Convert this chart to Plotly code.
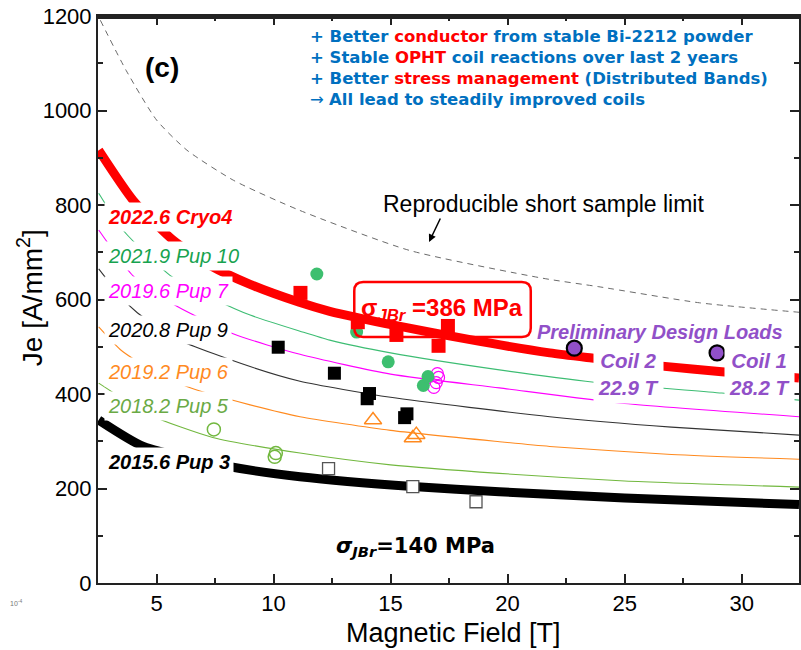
import plotly.graph_objects as go

# ---------------- data ----------------
limit_x = [2.6, 3.7, 5.0, 6.3, 8.3, 11.1, 15.8, 21.5, 23.9, 28.2, 32.45]
limit_y = [1191, 1085, 980, 916, 852, 789, 704, 645, 627, 593, 573]

cryo4_x = [2.53, 4.0, 5.7, 7.3, 9.0, 11.1, 12.4, 15.3, 18.4, 21.8, 23.6, 26.6, 29.15, 32.45]
cryo4_y = [916, 810, 726, 672, 632, 594, 575, 544, 515, 487, 476, 459, 447, 434]

pup10_x = [2.53, 3.6, 5.66, 7.58, 9.0, 11.13, 12.4, 15.0, 19.65, 23.7, 29.15, 32.45]
pup10_y = [825, 745, 648, 598, 567, 533, 514, 487, 451, 425, 402, 387]

pup7_x = [2.53, 4.0, 5.6, 8.3, 11.13, 15.0, 19.65, 25.0, 32.45]
pup7_y = [747, 650, 593, 527, 484, 442, 413, 380, 352]

pup9_x = [2.53, 3.6, 4.18, 5.89, 9.0, 11.13, 15.0, 21.8, 27.0, 32.45]
pup9_y = [665, 599, 572, 516, 458, 427, 393, 352, 330, 313]

pup6_x = [2.53, 3.5, 4.74, 6.5, 9.0, 11.13, 15.0, 19.65, 21.8, 27.0, 32.45]
pup6_y = [542, 492, 452, 412, 377, 352, 323, 299, 289, 272, 262]

pup5_x = [2.53, 4.74, 7.4, 11.13, 15.0, 19.65, 25.0, 32.45]
pup5_y = [423, 355, 308, 275, 250, 232, 216, 203]

pup3_x = [2.53, 4.44, 8.15, 11.13, 15.95, 19.65, 25.0, 32.45]
pup3_y = [345, 289, 246, 225, 204, 193, 180, 166]

cryo4_pts_x = [11.15, 13.6, 15.25, 17.05, 17.45]
cryo4_pts_y = [614, 552, 525, 502, 544]
pup10_pts_x = [11.85, 13.55, 14.9, 16.4, 16.6]
pup10_pts_y = [654, 531, 468, 418, 437]
pup7_pts_x = [17.0, 17.05, 16.95, 16.85]
pup7_pts_y = [443, 435, 424, 414]
pup9_pts_x = [10.2, 12.6, 14.0, 14.1, 15.6, 15.7]
pup9_pts_y = [499, 444, 390, 401, 350, 358]
pup6_pts_x = [14.25, 15.95, 16.1]
pup6_pts_y = [345, 307, 314]
pup5_pts_x = [7.45, 10.05, 10.1]
pup5_pts_y = [325, 267, 275]
pup3_pts_x = [12.35, 15.95, 18.65]
pup3_pts_y = [242, 204, 172]
design_x = [22.85, 28.95]
design_y = [497, 487]

x_ticks = [5, 10, 15, 20, 25, 30]
y_ticks = [0, 200, 400, 600, 800, 1000, 1200]

# ---------------- styling ----------------
FONT = "Liberation Sans, Arial, sans-serif"
WIDE = "DejaVu Sans, Verdana, sans-serif"
RED = "#ff0000"
GREEN_LINE = "#3dbd73"
GREEN_TXT = "#17a34f"
MAGENTA = "#ff00ff"
ORANGE = "#ff8a1f"
LGREEN = "#72b83f"
PURPLE = "#9150c8"
BLUE = "#0070c0"
AX = "#222222"

W, H = 801, 650
XMIN, XMAX = 2.5, 32.45
YMIN, YMAX = 0, 1200
PL, PT, PB, PR = 98, 16, 583, 801          # plot area in page pixels
PW, PH = PR - PL, PB - PT

def pxx(px):
    return (px - PL) / PW
def pxy(py):
    return (PB - py) / PH

fig = go.Figure()

def curve(x, y, color, width, dash=None):
    fig.add_trace(go.Scatter(x=x, y=y, mode="lines",
                             line=dict(color=color, width=width, dash=dash, shape="spline", smoothing=0.6),
                             hoverinfo="skip"))

curve(limit_x, limit_y, "#6a6a6a", 1, "6px,5px")
curve(pup3_x, pup3_y, "black", 9)
curve(pup5_x, pup5_y, LGREEN, 1.1)
curve(pup6_x, pup6_y, ORANGE, 1.1)
curve(pup9_x, pup9_y, "#333333", 1.1)
curve(pup7_x, pup7_y, MAGENTA, 1.1)
curve(pup10_x, pup10_y, GREEN_LINE, 1.1)
curve(cryo4_x, cryo4_y, RED, 9)

def pts(x, y, symbol, size, fill, line_color, lw):
    fig.add_trace(go.Scatter(x=x, y=y, mode="markers",
                             marker=dict(symbol=symbol, size=size, color=fill, line=dict(color=line_color, width=lw)),
                             hoverinfo="skip"))

pts(pup3_pts_x, pup3_pts_y, "square", 12, "white", "#555555", 1.3)
pts(pup5_pts_x, pup5_pts_y, "circle-open", 13, LGREEN, LGREEN, 1.5)
pts(pup6_pts_x, pup6_pts_y, "triangle-up-open", 15, ORANGE, ORANGE, 1.5)
pts(pup9_pts_x, pup9_pts_y, "square", 13, "black", "black", 0)
pts(pup7_pts_x, pup7_pts_y, "circle-open", 12, MAGENTA, MAGENTA, 1.2)
pts(pup10_pts_x, pup10_pts_y, "circle", 13, "#3dbf6f", "#3dbf6f", 0)
pts(cryo4_pts_x, cryo4_pts_y, "square", 14, RED, RED, 0)
pts(design_x, design_y, "circle", 15, PURPLE, "black", 2.2)

annotations = []
def ann(text, px, py, size, color="black", xanchor="center", yanchor="middle", bg=None, angle=0, pad=1, family=FONT):
    d = dict(text=text, x=pxx(px), y=pxy(py), xref="paper", yref="paper", showarrow=False,
             font=dict(family=family, size=size, color=color), xanchor=xanchor, yanchor=yanchor,
             textangle=angle, borderpad=pad)
    if bg:
        d["bgcolor"] = bg
    annotations.append(d)

# series labels
ann("<b><i>2022.6 Cryo4</i></b>", 104, 217, 20, RED, "left", bg="white", pad=3)
ann("<i>2021.9 Pup 10</i>", 104, 256, 20, GREEN_TXT, "left", bg="white", pad=3)
ann("<i>2019.6 Pup 7</i>", 104, 291, 20, MAGENTA, "left", bg="white", pad=3)
ann("<i>2020.8 Pup 9</i>", 104, 330, 20, "black", "left", bg="white", pad=3)
ann("<i>2019.2 Pup 6</i>", 104, 372, 20, ORANGE, "left", bg="white", pad=3)
ann("<i>2018.2 Pup 5</i>", 104, 406, 20, "#6aaa45", "left", bg="white", pad=3)
ann("<b><i>2015.6 Pup 3</i></b>", 104, 462, 20, "black", "left", bg="white", pad=3)

# panel tag
ann("<b>(c)</b>", 162, 67, 28)

# top notes
R = "<span style='color:#ff0000'>"
ann("<b>+ Better " + R + "conductor</span> from stable Bi-2212 powder</b>", 309, 36, 16.5, BLUE, "left", family=WIDE)
ann("<b>+ Stable " + R + "OPHT</span> coil reactions over last 2 years</b>", 309, 57, 16.5, BLUE, "left", family=WIDE)
ann("<b>+ Better " + R + "stress management</span> (Distributed Bands)</b>", 309, 78, 16.5, BLUE, "left", family=WIDE)
ann("→ <b>All lead to steadily improved coils</b>", 309, 99, 16.5, BLUE, "left", family=WIDE)

# short sample limit
ann("Reproducible short sample limit", 545, 204, 23, "black")
annotations.append(dict(x=pxx(430), y=pxy(242), ax=12, ay=-25, xref="paper", yref="paper", text="",
                        showarrow=True, arrowhead=2, arrowsize=1, arrowwidth=1.5, arrowcolor="black"))

# stress labels
ann("<b>σ<sub><i>JBr</i></sub> =386 MPa</b>", 443, 309, 24, RED)
ann("<b><i>σ<sub>JBr</sub></i>=140 MPa</b>", 416, 547, 21, "black", family=WIDE)

# design loads
ann("<b><i>Preliminary Design Loads</i></b>", 662, 332, 20, PURPLE)
ann("<b><i>Coil 2<br>22.9 T</i></b>", 630, 374, 20.5, PURPLE, bg="white", pad=4)
ann("<b><i>Coil 1<br>28.2 T</i></b>", 761, 374, 20.5, PURPLE, bg="white", pad=4)

# axis titles
ann("Magnetic Field [T]", 455, 633, 27)
ann("Je [A/mm<sup>2</sup>]", 30, 298, 28, angle=-90)
ann("10<sup>-4</sup>", 16, 603, 7, "#777777")

# rounded box around 386 MPa (placed in axis units converted from pixels)
def dx(px):
    return XMIN + (px - PL) / PW * (XMAX - XMIN)
def dy(py):
    return YMIN + (PB - py) / PH * (YMAX - YMIN)
bx1, bx2 = dx(355), dx(532)
by1, by2 = dy(282), dy(337)
rx = dx(PL + 9) - dx(PL)
ry = dy(PB - 9) - dy(PB)
path = (f"M {bx1+rx},{by1} L {bx2-rx},{by1} Q {bx2},{by1} {bx2},{by1-ry} "
        f"L {bx2},{by2+ry} Q {bx2},{by2} {bx2-rx},{by2} L {bx1+rx},{by2} "
        f"Q {bx1},{by2} {bx1},{by2+ry} L {bx1},{by1-ry} Q {bx1},{by1} {bx1+rx},{by1} Z")
shapes = [
    dict(type="path", path=path, xref="x", yref="y", line=dict(color=RED, width=2.5),
         fillcolor="rgba(0,0,0,0)"),
    # top frame edge as a thin filled band just inside the plot top
    dict(type="rect", xref="paper", yref="paper", x0=0, x1=1, y0=1 - 3.0 / PH, y1=1,
         line=dict(width=0), fillcolor=AX, layer="above"),
]

axis_common = dict(showline=True, linewidth=2, linecolor=AX, ticks="inside", mirror="allticks",
                   ticklen=9, tickwidth=1.5, tickcolor=AX, showgrid=False, zeroline=False,
                   ticklabeloverflow="allow",
                   tickfont=dict(family=FONT, size=22, color="black"))

fig.update_layout(
    width=W, height=H,
    margin=dict(l=PL, r=W - PR, t=PT, b=H - PB, pad=0),
    paper_bgcolor="white", plot_bgcolor="white",
    showlegend=False,
    font=dict(family=FONT, color="black"),
    xaxis=dict(range=[XMIN, XMAX], tickvals=x_ticks, ticktext=[str(v) for v in x_ticks],
               minor=dict(ticks="inside", ticklen=5, tickwidth=1.5, tickcolor=AX, dtick=2.5, tick0=0),
               **axis_common),
    yaxis=dict(range=[YMIN, YMAX], tickvals=y_ticks, ticktext=[str(v) for v in y_ticks],
               minor=dict(ticks="inside", ticklen=5, tickwidth=1.5, tickcolor=AX, dtick=100, tick0=0),
               **axis_common),
    annotations=annotations,
    shapes=shapes,
)

# remove the browser's default page margin so the figure sits at the window's corner
fig.write_html("out.html", config={"displayModeBar": False},
               post_script="document.body.style.margin='0px';document.body.style.overflow='hidden';")
